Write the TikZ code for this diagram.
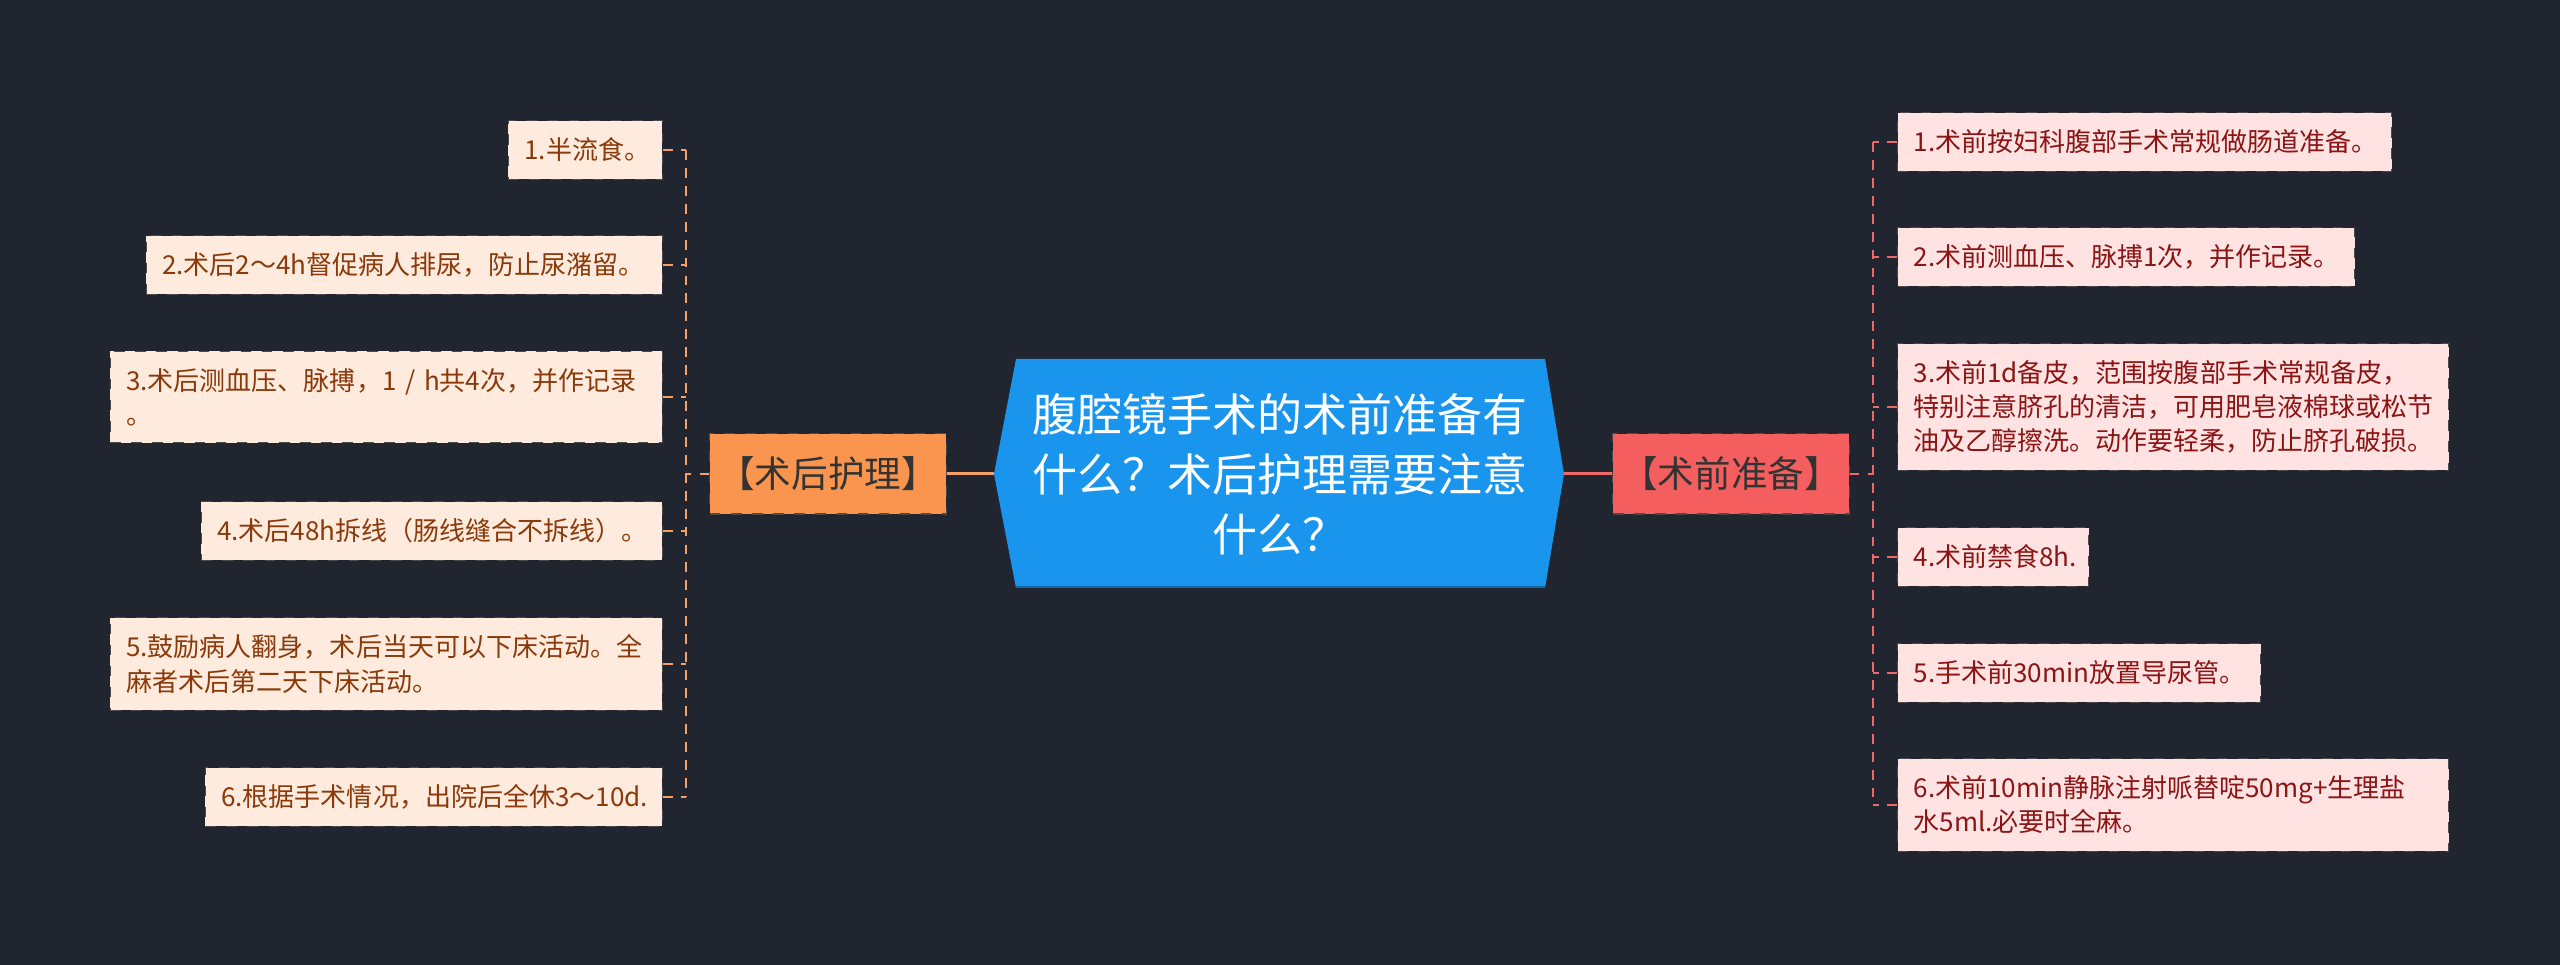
\documentclass[tikz,border=0pt]{standalone}
\usepackage{fontspec}
\newfontfamily\cjk{Noto Sans CJK SC}
\definecolor{bgdark}{HTML}{21252F}
\definecolor{rootblue}{HTML}{1A95EE}
\definecolor{postfill}{HTML}{F9954E}
\definecolor{prefill}{HTML}{F45E5E}
\definecolor{postline}{HTML}{F5A066}
\definecolor{preline}{HTML}{EE6A6A}
\definecolor{postleaf}{HTML}{FEEBDD}
\definecolor{preleaf}{HTML}{FFE3E3}
\definecolor{posttext}{HTML}{8A3A0A}
\definecolor{pretext}{HTML}{8B1414}
\definecolor{edgegray}{HTML}{4A4A4A}
\begin{document}
\begin{tikzpicture}[x=0.01cm,y=-0.01cm,
	leaf/.style={draw=edgegray,dashed,line width=0.3pt,inner xsep=0.16cm,inner ysep=0.17cm,
		align=left,font=\cjk\fontsize{7.4pt}{9.67pt}\selectfont},
	leafL/.style={leaf,fill=postleaf,text=posttext,anchor=east},
	leafR/.style={leaf,fill=preleaf,text=pretext,anchor=west},
	branch/.style={draw=edgegray,dashed,line width=0.3pt,minimum width=2.36cm,minimum height=0.8cm,
		inner sep=0pt,text=black!80,font=\cjk\fontsize{10.4pt}{12pt}\selectfont},
	lineL/.style={postline,line width=0.57pt,dash pattern=on 2.8pt off 2.3pt},
	lineR/.style={preline,line width=0.57pt,dash pattern=on 2.8pt off 2.3pt}]
	\fill[bgdark] (0,0) rectangle (2560,965);
	\useasboundingbox (0,0) rectangle (2560,965);
	% centre
	\fill[rootblue] (994,474) -- (1016,359) -- (1545,359) -- (1564,474) -- (1545,588) -- (1016,588) -- cycle;
	\draw[rootblue!70!black,line width=0.8pt] (1016,587) -- (1545,587);
	\coordinate (rootW) at (994,474);
	\coordinate (rootE) at (1564,474);
	\node at (1280,474) (root) [align=center,text=white,font=\cjk\fontsize{12.8pt}{17.07pt}\selectfont]
		{腹腔镜手术的术前准备有\\什么？术后护理需要注意\\什么？};
	% branches
	\node at (828,474) (post) [branch,fill=postfill] {【术后护理】};
	\node at (1731,474) (pre) [branch,fill=prefill] {【术前准备】};
	% left leaves
	\node at (663,150) (l1) [leafL,text width=1.22cm] {1.半流食。};
	\node at (663,265) (l2) [leafL,text width=4.84cm] {2.术后2～4h督促病人排尿，防止尿潴留。};
	\node at (663,397) (l3) [leafL,text width=5.2cm] {3.术后测血压、脉搏，1 / h共4次，并作记录\\。};
	\node at (663,531) (l4) [leafL,text width=4.29cm] {4.术后48h拆线（肠线缝合不拆线）。};
	\node at (663,664) (l5) [leafL,text width=5.2cm] {5.鼓励病人翻身，术后当天可以下床活动。全\\麻者术后第二天下床活动。};
	\node at (663,797) (l6) [leafL,text width=4.25cm] {6.根据手术情况，出院后全休3～10d.};
	% right leaves
	\node at (1897,142) (r1) [leafR,text width=4.62cm] {1.术前按妇科腹部手术常规做肠道准备。};
	\node at (1897,257) (r2) [leafR,text width=4.25cm] {2.术前测血压、脉搏1次，并作记录。};
	\node at (1897,407) (r3) [leafR,text width=5.19cm] {3.术前1d备皮，范围按腹部手术常规备皮，\\特别注意脐孔的清洁，可用肥皂液棉球或松节\\油及乙醇擦洗。动作要轻柔，防止脐孔破损。};
	\node at (1897,557) (r4) [leafR,text width=1.59cm] {4.术前禁食8h.};
	\node at (1897,673) (r5) [leafR,text width=3.31cm] {5.手术前30min放置导尿管。};
	\node at (1897,805) (r6) [leafR,text width=5.19cm] {6.术前10min静脉注射哌替啶50mg+生理盐\\水5ml.必要时全麻。};
	% connectors
	\coordinate (postbus) at (686,474);
	\coordinate (prebus) at (1873,474);
	\draw[postline,line width=0.85pt] (rootW) -- (post.east);
	\draw[preline,line width=0.85pt] (rootE) -- (pre.west);
	\draw[lineL] (post.west) -- (postbus);
	\draw[lineR] (pre.east) -- (prebus);
	\draw[lineL] (l1.east -| postbus) -- (l6.east -| postbus);
	\draw[lineR] (r1.west -| prebus) -- (r6.west -| prebus);
	\foreach \n in {1,...,6} {
		\draw[lineL] (l\n.east) -- (l\n.east -| postbus);
		\draw[lineR] (r\n.west) -- (r\n.west -| prebus);
	}
\end{tikzpicture}
\end{document}
